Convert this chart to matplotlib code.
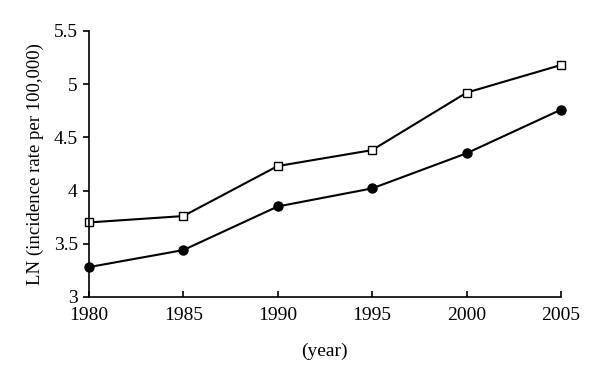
import matplotlib
matplotlib.use("Agg")
import matplotlib.pyplot as plt

years = [1980, 1985, 1990, 1995, 2000, 2005]
series_square = [3.70, 3.76, 4.23, 4.38, 4.92, 5.18]
series_circle = [3.28, 3.44, 3.85, 4.02, 4.35, 4.76]

plt.rcParams['font.family'] = ['Liberation Serif', 'DejaVu Serif']

fig = plt.figure(figsize=(6, 3.73), dpi=100)
ax = fig.add_axes([0.148, 0.204, 0.787, 0.713])

ax.plot(years, series_square, color='black', lw=1.5, marker='s', ms=6,
        mfc='white', mec='black', mew=1.0, clip_on=False)
ax.plot(years, series_circle, color='black', lw=1.5, marker='o', ms=6.5,
        mfc='black', mec='black', clip_on=False)

ax.set_xlim(1980, 2005)
ax.set_ylim(3, 5.5)
ax.set_xticks(years)
ax.set_yticks([3, 3.5, 4, 4.5, 5, 5.5])
ax.set_yticklabels(['3', '3.5', '4', '4.5', '5', '5.5'])
for s in ['top', 'right']:
    ax.spines[s].set_visible(False)
for s in ['left', 'bottom']:
    ax.spines[s].set_linewidth(1.2)
ax.tick_params(axis='x', direction='in', length=4, width=1.2, labelsize=14, pad=7)
ax.tick_params(axis='y', direction='out', length=4, width=1.2, labelsize=14, pad=4)
ax.set_xlabel('(year)', fontsize=14, labelpad=14)
ax.set_ylabel('LN (incidence rate per 100,000)', fontsize=13.5, labelpad=7)

fig.savefig('out.png', dpi=100)
